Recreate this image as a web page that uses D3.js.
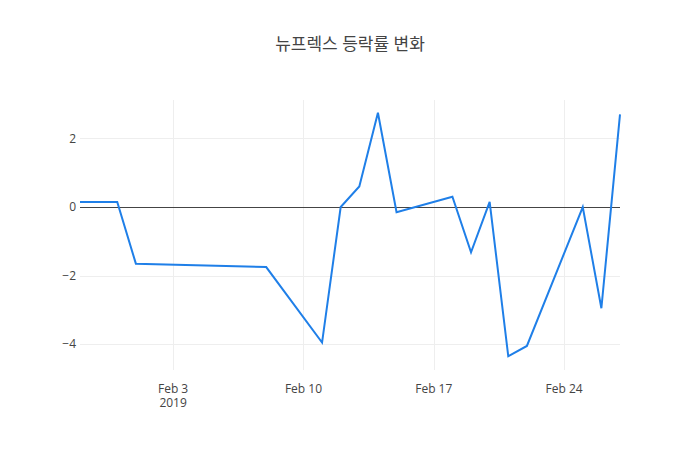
<!DOCTYPE html>
<html>
<head>
<meta charset="utf-8">
<script src="https://cdn.jsdelivr.net/npm/d3@7"></script>
<style>
  body { margin: 0; background: #fff; }
  text { font-family: "Open Sans", "Noto Sans CJK KR", sans-serif; }
</style>
</head>
<body>
<div id="chart"></div>
<script>
const dates = ['2019-01-29', '2019-01-31', '2019-02-01', '2019-02-08', '2019-02-11', '2019-02-12',
  '2019-02-13', '2019-02-14', '2019-02-15', '2019-02-18', '2019-02-19', '2019-02-20',
  '2019-02-21', '2019-02-22', '2019-02-25', '2019-02-26', '2019-02-27']
const changes = [0.15, 0.15, -1.65, -1.75, -3.95, 0, 0.6, 2.75, -0.15, 0.3, -1.32, 0.15,
  -4.35, -4.05, 0, -2.95, 2.7]
const yTicks = [-4, -2, 0, 2]
const xTicks = ['2019-02-03', '2019-02-10', '2019-02-17', '2019-02-24']
const title = '뉴프렉스 등락률 변화'

const width = 700
const height = 450
const margin = { top: 100, right: 80, bottom: 80, left: 80 }

const parse = d3.utcParse('%Y-%m-%d')
const data = dates.map((d, i) => ({ date: parse(d), value: changes[i] }))

const svg = d3.select('#chart')
  .append('svg')
  .attr('width', width)
  .attr('height', height)

const x = d3.scaleUtc()
  .domain(d3.extent(data, d => d.date))
  .range([margin.left, width - margin.right])

const y = d3.scaleLinear()
  .domain([-4.75, 3.12])
  .range([height - margin.bottom, margin.top])

// grid
svg.append('g')
  .selectAll('line')
  .data(xTicks.map(parse))
  .join('line')
  .attr('x1', d => Math.round(x(d)) + 0.5).attr('x2', d => Math.round(x(d)) + 0.5)
  .attr('y1', margin.top).attr('y2', height - margin.bottom)
  .attr('stroke', '#eee')

svg.append('g')
  .selectAll('line')
  .data(yTicks)
  .join('line')
  .attr('x1', margin.left).attr('x2', width - margin.right)
  .attr('y1', d => Math.round(y(d)) + 0.5).attr('y2', d => Math.round(y(d)) + 0.5)
  .attr('stroke', d => d === 0 ? '#444' : '#eee')
  .attr('stroke-width', 1)

// axis labels
svg.append('g')
  .selectAll('text')
  .data(yTicks)
  .join('text')
  .attr('x', margin.left - 4)
  .attr('y', d => y(d))
  .attr('dy', '0.35em')
  .attr('text-anchor', 'end')
  .attr('font-size', 12)
  .attr('fill', '#444')
  .text(d => d < 0 ? '\u2212' + Math.abs(d) : d)

const fmt = d3.utcFormat('%b %-d')
svg.append('g')
  .selectAll('text')
  .data(xTicks.map(parse))
  .join('text')
  .attr('x', d => x(d))
  .attr('y', height - margin.bottom + 14)
  .attr('dy', '0.71em')
  .attr('text-anchor', 'middle')
  .attr('font-size', 12)
  .attr('fill', '#444')
  .text(d => fmt(d))

svg.append('text')
  .attr('x', x(parse(xTicks[0])))
  .attr('y', height - margin.bottom + 28)
  .attr('dy', '0.71em')
  .attr('text-anchor', 'middle')
  .attr('font-size', 12)
  .attr('fill', '#444')
  .text('2019')

svg.append('path')
  .datum(data)
  .attr('fill', 'none')
  .attr('stroke', '#1f7fe8')
  .attr('stroke-width', 2)
  .attr('d', d3.line().x(d => x(d.date)).y(d => y(d.value)))

svg.append('text')
  .attr('x', width / 2)
  .attr('y', 50)
  .attr('text-anchor', 'middle')
  .attr('font-size', 17)
  .attr('fill', '#444')
  .text(title)
</script>
</body>
</html>
